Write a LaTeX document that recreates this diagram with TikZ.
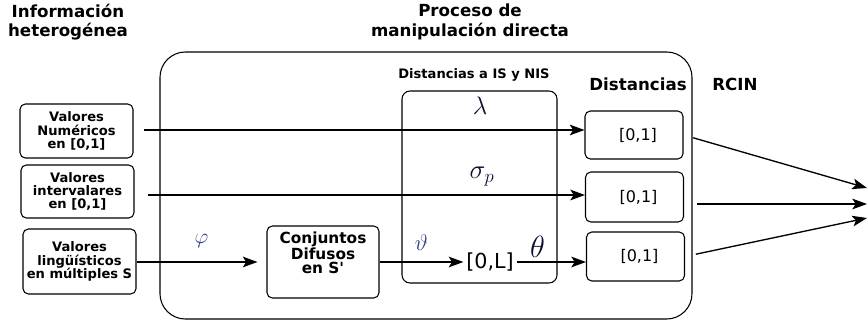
\RequirePackage{fix-cm}
\documentclass[tikz,border=0pt]{standalone}
\usepackage{fontspec}
\setmainfont{DejaVu Sans}
\usetikzlibrary{arrows.meta}
\usetikzlibrary{positioning}
\definecolor{greekdark}{RGB}{15,15,50}
\definecolor{greeklight}{RGB}{55,65,130}
\tikzstyle{title} = [font=\fontsize{12.5}{14.5}\selectfont\bfseries, align=center]
\tikzstyle{inbox} = [rectangle, rounded corners=4pt, draw=black, line width=0.8pt,
font=\fontsize{9.8}{10}\selectfont\bfseries, align=center, inner sep=0pt, minimum width=84.75pt]
\tikzstyle{process} = [rectangle, rounded corners=4pt, draw=black, line width=0.8pt,
font=\fontsize{11.5}{10.8}\selectfont\bfseries, align=center, inner sep=0pt, minimum width=84pt]
\tikzstyle{distbox} = [rectangle, rounded corners=4pt, draw=black, line width=0.8pt,
font=\fontsize{12}{14}\selectfont, inner sep=0pt, minimum width=73.5pt]
\tikzstyle{greek} = [text=greekdark, inner sep=0pt]
\tikzstyle{arrow} = [line width=1pt, -{Stealth[length=11pt, width=8pt, inset=2.5pt]}]

\begin{document}
\begin{tikzpicture} [x=0.75pt, y=-0.75pt]
    \useasboundingbox (0,0) rectangle (867,324);
    \node (tin) [title] at (68,22) {Información\\heterogénea};
    \node (tproc) [title] at (470,22) {Proceso de\\manipulación directa};
    \node (proc) [draw, line width=0.8pt, rounded corners=19pt, minimum width=399pt,
        minimum height=200.25pt, inner sep=0pt] at (426,185.5) {};
    \node (tdis) [font=\fontsize{9.8}{12}\selectfont\bfseries] at (474,75) {Distancias a IS y NIS};
    \node (dis) [draw, line width=0.8pt, rounded corners=6pt, minimum width=116.25pt,
        minimum height=144pt, inner sep=0pt] at (479.5,187) {};
    \node (tdist) [title] at (638,84) {Distancias};
    \node (trcin) [title] at (735,84) {RCIN};

    \node (in1) [inbox, minimum height=40.5pt] at (76.5,131) {Valores\\Numéricos\\en [0,1]};
    \node (in2) [inbox, minimum height=39.75pt] at (77.5,191.5) {Valores\\intervalares\\en [0,1]};
    \node (in3) [inbox, minimum height=48.75pt] at (79.5,261.5) {Valores\\lingüísticos\\en múltiples S};
    \node (pro1) [process, minimum height=54pt, text depth=1.4em] at (323,262) {Conjuntos\\Difusos\\en S\textquotesingle};
    \node (lint) [font=\fontsize{15.5}{18}\selectfont, inner sep=2pt] at (490,262) {[0,L]};

    \node (dist1) [distbox, minimum height=36pt] at (634,135) {\hspace{6pt}[0,1]};
    \node (dist2) [distbox, minimum height=37.5pt] at (634.5,197) {\hspace{6pt}[0,1]};
    \node (dist3) [distbox, minimum height=36.75pt] at (635.5,256.5) {\hspace{6pt}[0,1]};

    \node (lam) [greek, font=\fontsize{19}{22}\selectfont] at (480,106) {$\lambda$};
    \node (sig) [greek, font=\fontsize{20}{24}\selectfont] at (482,177) {$\sigma_p$};

    \coordinate (o1) at (867,188);
    \coordinate (o2) at (867,204);
    \coordinate (o3) at (867,218);

    \draw[arrow, shorten <=7.5pt] (in1.east |- 0,130) -- (dist1.west |- 0,130);
    \draw[arrow, shorten <=9.75pt] (in2.east |- 0,195) -- (dist2.west |- 0,195);
    \draw[arrow, shorten >=6.75pt] (in3.east |- 0,262) -- node[above=10pt, greek, text=greeklight,
        font=\fontsize{16}{18}\selectfont] {$\varphi$} (pro1.west |- 0,262);
    \draw[arrow] (pro1.east |- 0,262) -- node[above=8pt, greek, text=greeklight,
        font=\fontsize{17}{19}\selectfont] {$\vartheta$} (lint.west);
    \draw[arrow] (lint.east) -- node[pos=0.3, above=3pt, greek,
        font=\fontsize{23}{26}\selectfont] {$\theta$} (dist3.west |- lint.east);
    \draw[arrow, shorten <=7.5pt] (dist1.east) -- (o1);
    \draw[arrow, shorten <=9.75pt] (dist2.east |- o2) -- (o2);
    \draw[arrow, shorten <=8.25pt] (dist3.east) -- (o3);
\end{tikzpicture}
\end{document}
